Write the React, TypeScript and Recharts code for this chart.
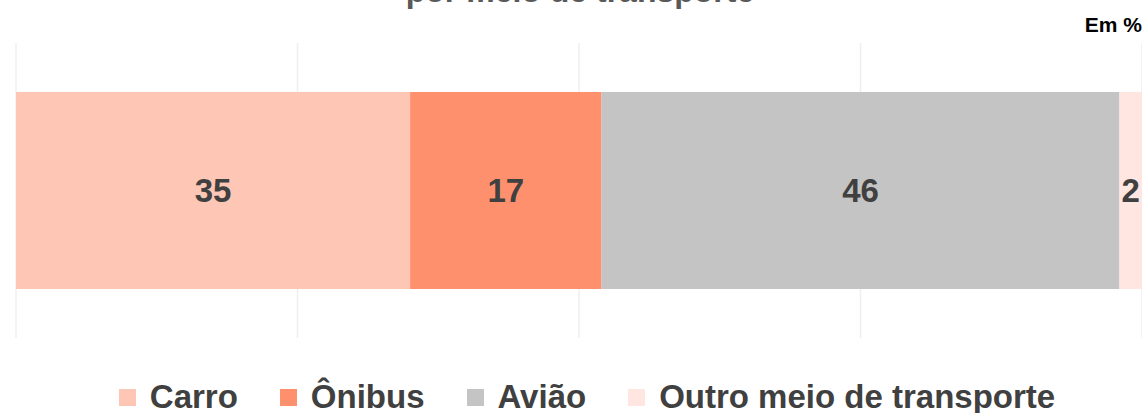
import React from 'react';
import { BarChart, Bar, XAxis, YAxis, CartesianGrid, LabelList } from 'recharts';

// Share of trips by transport mode (%)
const seriesNames = ['Carro', 'Ônibus', 'Avião', 'Outro meio de transporte'];
const seriesKeys = ['carro', 'onibus', 'aviao', 'outro'];
const seriesValues = [35, 17, 46, 2];
const seriesColors = ['#FEC6B5', '#FF906E', '#C4C4C4', '#FFE6E0'];
const xTicks = [0, 25, 50, 75, 100];

const row: Record<string, any> = { name: 'total' };
seriesKeys.forEach((k, i) => {
  row[k] = seriesValues[i];
});
const data = [row];

const font = '"Liberation Sans", Arial, sans-serif';

const App = () => {
  return (
    <div style={{ position: 'absolute', left: 0, top: 0, width: 1142, height: 413, background: '#fff', fontFamily: font }}>
      <BarChart
        width={1142}
        height={413}
        data={data}
        layout="vertical"
        margin={{ top: 43, right: 0, left: 16, bottom: 75 }}
        barSize={197}
      >
        {/* title line sits mostly above the visible frame, as in the source */}
        <text x={580} y={2} textAnchor="middle" fontSize={32} fontWeight="bold" fill="#595959" fontFamily={font}>
          por meio de transporte
        </text>
        <text x={1142} y={32} textAnchor="end" fontSize={21} fontWeight="bold" fill="#000" fontFamily={font}>
          Em %
        </text>
        <CartesianGrid horizontal={false} stroke="#EFEFEF" strokeWidth={1.5} />
        <XAxis type="number" domain={[0, 100]} ticks={xTicks} hide />
        <YAxis type="category" dataKey="name" hide width={0} />
        {seriesKeys.map((k, i) => (
          <Bar key={k} dataKey={k} stackId="a" fill={seriesColors[i]} isAnimationActive={false}>
            <LabelList
              dataKey={k}
              position="center"
              fill="#404040"
              fontSize={33}
              fontWeight="bold"
              fontFamily={font}
            />
          </Bar>
        ))}
      </BarChart>
      <div
        style={{
          position: 'absolute',
          left: 0,
          width: 1142,
          boxSizing: 'border-box',
          paddingLeft: 32,
          top: 378,
          display: 'flex',
          justifyContent: 'center',
          alignItems: 'center',
          gap: 42,
          fontSize: 33,
          lineHeight: '38px',
          fontWeight: 'bold',
          color: '#404040',
        }}
      >
        {seriesNames.map((n, i) => (
          <div key={n} style={{ display: 'flex', alignItems: 'center' }}>
            <span style={{ display: 'inline-block', width: 17, height: 17, background: seriesColors[i], marginRight: 14 }} />
            <span>{n}</span>
          </div>
        ))}
      </div>
    </div>
  );
};

export default App;
